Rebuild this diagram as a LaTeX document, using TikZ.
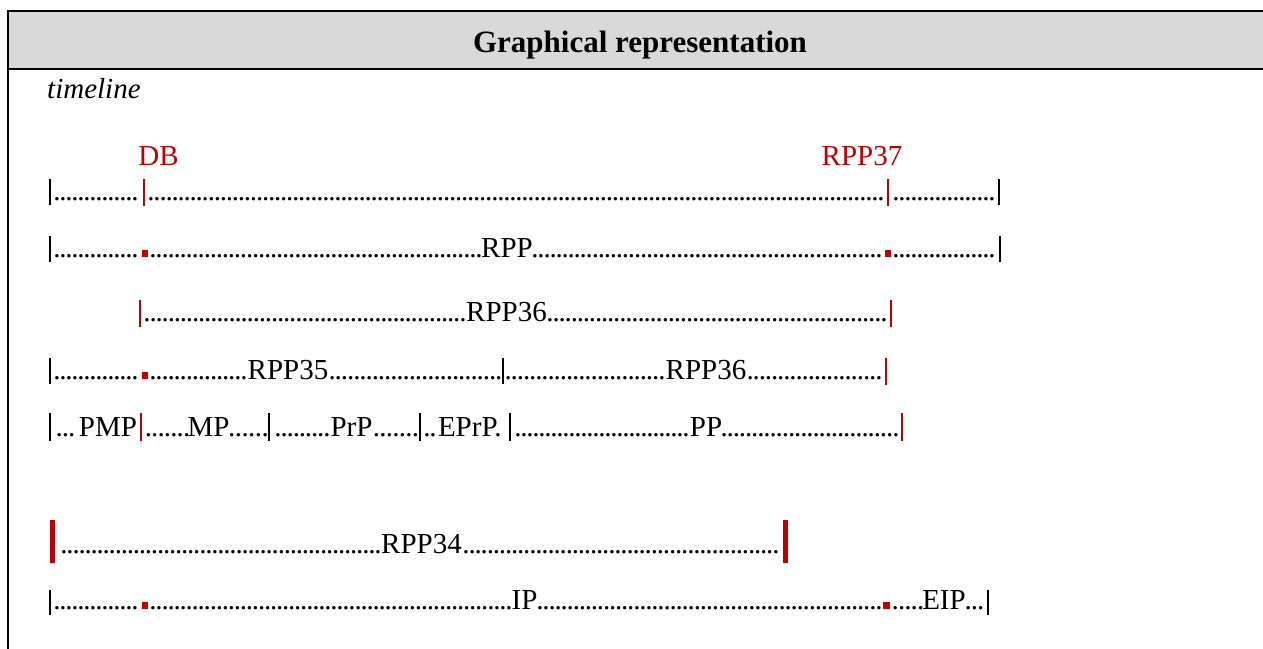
\documentclass[tikz,border=0pt]{standalone}
\usepackage{fontspec}
\setmainfont{Liberation Serif}
\definecolor{rd}{HTML}{C00000}
\definecolor{hdr}{HTML}{D9D9D9}
\newcommand\bodyfont{\fontsize{29}{34}\selectfont}
\newcommand\mydots[4]{\node[dotrun] (#1) at (#2,#4) {\hbox to #3pt{\xleaders\hbox to 6pt{\hss.\hss}\hfill}};}
\tikzset{
  dotrun/.style={anchor=base west, inner sep=0pt, outer sep=0pt, font=\bodyfont},
  lbl/.style={anchor=base, inner sep=0pt, outer sep=0pt, font=\bodyfont},
  bkbar/.style={line width=2pt, black},
  rdbar/.style={line width=2.4pt, rd},
  bigbar/.style={line width=5pt, rd},
  rdsq/.style={fill=rd},
  frameline/.style={line width=2pt, black}
}
\begin{document}
\begin{tikzpicture}[x=1pt,y=-1pt]
\useasboundingbox (0,0) rectangle (1263,648);
% header
\fill[hdr] (8,11) rectangle (1270,69);
\draw[frameline] (1270,11) -- (8,11) -- (8,652);
\draw[frameline] (8,69) -- (1270,69);
\node[anchor=base, inner sep=0pt, font=\fontsize{31}{36}\selectfont\bfseries] (title) at (640,52) {Graphical representation};
\node[anchor=base west, inner sep=0pt, font=\bodyfont\itshape] (timeline) at (47,98) {timeline};
% top labels
\node[lbl, text=rd] (db) at (158.5,165) {DB};
\node[lbl, text=rd] (rpp37) at (862,165) {RPP37};
% row 1
\draw[bkbar] (50,179) -- (50,205);
\mydots{r1a}{54}{84}{200}
\draw[rdbar] (144,179) -- (144,206);
\mydots{r1b}{148}{736}{200}
\draw[rdbar] (888,179) -- (888,206);
\mydots{r1c}{893}{102}{200}
\draw[bkbar] (999,179) -- (999,205);
% row 2
\draw[bkbar] (50,236) -- (50,262);
\mydots{r2a}{54}{84}{257}
\fill[rdsq] (142,250) rectangle (148,257);
\mydots{r2b}{150}{332}{257}
\node[lbl] (rpp) at (507,257) {RPP};
\mydots{r2c}{532}{350}{257}
\fill[rdsq] (885,250) rectangle (891,257);
\mydots{r2d}{893}{102}{257}
\draw[bkbar] (1000,236) -- (1000,262);
% row 3
\draw[rdbar] (140,300) -- (140,327);
\mydots{r3a}{144}{322}{321}
\node[lbl] (rpp36a) at (506.5,321) {RPP36};
\mydots{r3b}{547}{340}{321}
\draw[rdbar] (891,300) -- (891,327);
% row 4
\draw[bkbar] (50,358) -- (50,384);
\mydots{r4a}{54}{84}{379}
\fill[rdsq] (142,372) rectangle (148,379);
\mydots{r4b}{150}{97}{379}
\node[lbl] (rpp35) at (288,379) {RPP35};
\mydots{r4c}{329}{173}{379}
\draw[bkbar] (503,358) -- (503,384);
\mydots{r4d}{505}{160}{379}
\node[lbl] (rpp36b) at (706,379) {RPP36};
\mydots{r4e}{747}{135}{379}
\draw[rdbar] (886,358) -- (886,385);
% row 5
\draw[bkbar] (50,413) -- (50,441);
\mydots{r5a}{56}{19}{436}
\node[lbl] (pmp) at (108,436) {PMP};
\draw[rdbar] (141,413) -- (141,441);
\mydots{r5b}{145}{45}{436}
\node[lbl] (mp) at (208.5,436) {MP};
\mydots{r5c}{228}{41}{436}
\draw[bkbar] (269,413) -- (269,441);
\mydots{r5d}{275}{55}{436}
\node[lbl] (prp) at (351.5,436) {PrP};
\mydots{r5e}{373}{46}{436}
\draw[bkbar] (420,413) -- (420,441);
\mydots{r5f}{424}{12}{436}
\node[lbl, anchor=base west] (eprp) at (438,436) {EPrP.};
\draw[bkbar] (510,413) -- (510,441);
\mydots{r5g}{515}{174}{436}
\node[lbl] (pp) at (706,436) {PP};
\mydots{r5h}{721}{178}{436}
\draw[rdbar] (902,413) -- (902,441);
% row 6
\draw[bigbar] (52.5,520) -- (52.5,563);
\mydots{r6a}{61}{320}{553}
\node[lbl] (rpp34) at (421.5,553) {RPP34};
\mydots{r6b}{463}{316}{553}
\draw[bigbar] (785,520) -- (785,563);
% row 7
\draw[bkbar] (50,590) -- (50,615);
\mydots{r7a}{54}{84}{609}
\fill[rdsq] (142,602) rectangle (148,609);
\mydots{r7b}{150}{362}{609}
\node[lbl] (ip) at (524.5,609) {IP};
\mydots{r7c}{537}{345}{609}
\fill[rdsq] (883,602) rectangle (890,609);
\mydots{r7d}{892}{32}{609}
\node[lbl] (eip) at (944,609) {EIP};
\mydots{r7e}{965}{19}{609}
\draw[bkbar] (988,590) -- (988,615);
\end{tikzpicture}
\end{document}
